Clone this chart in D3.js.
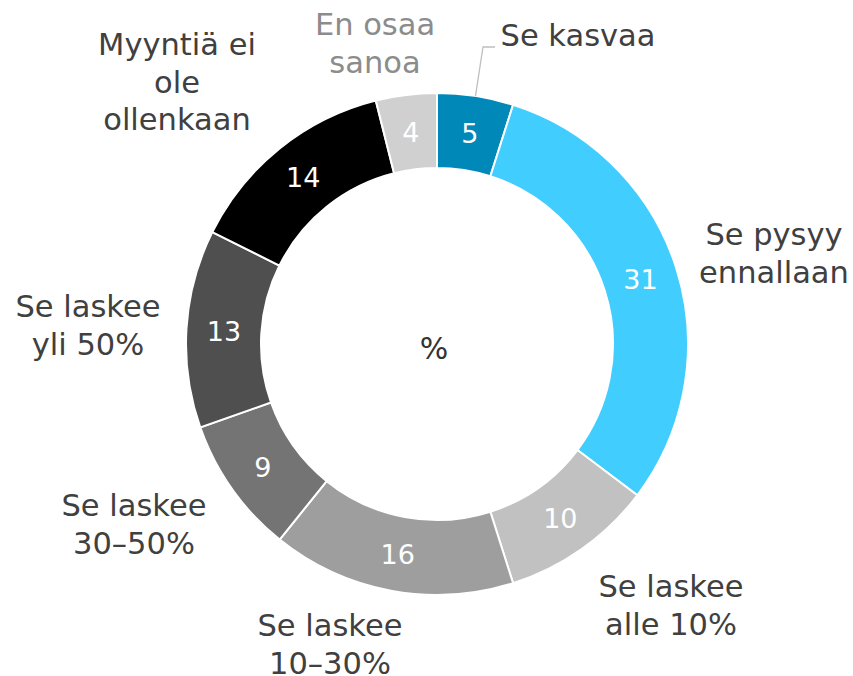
<!DOCTYPE html>
<html>
<head>
<meta charset="utf-8">
<style>
  body { margin: 0; background: #fff; }
  svg text { font-family: "DejaVu Sans", Verdana, sans-serif; }
</style>
</head>
<body>
<svg width="853" height="676"></svg>
<script src="https://cdn.jsdelivr.net/npm/d3@7"></script>
<script>
// data, clockwise from 12 o'clock
var categories = ["Se kasvaa", "Se pysyy ennallaan", "Se laskee alle 10%", "Se laskee 10–30%",
                  "Se laskee 30–50%", "Se laskee yli 50%", "Myyntiä ei ole ollenkaan", "En osaa sanoa"];
var values = [5, 31, 10, 16, 9, 13, 14, 4];
var labelLines = [["Se kasvaa"], ["Se pysyy", "ennallaan"], ["Se laskee", "alle 10%"], ["Se laskee", "10–30%"],
                  ["Se laskee", "30–50%"], ["Se laskee", "yli 50%"], ["Myyntiä ei", "ole", "ollenkaan"], ["En osaa", "sanoa"]];
var colors = ["#0088b8", "#42cdff", "#c1c1c1", "#9e9e9e", "#747474", "#4f4f4f", "#000000", "#d0d0d0"];

// layout of the outside labels (x centre, first baseline)
var labelPos = [[578, 46], [774, 245], [671, 597], [330, 636], [134, 516], [88, 317], [177, 55], [375, 35]];

var svg = d3.select("svg"),
    cx = 437, cy = 344,
    outerR = 251, innerR = 176,
    lineH = 37.5;

var g = svg.append("g").attr("transform", "translate(" + cx + "," + cy + ")");

var data = categories.map(function(c, i) { return {cat: c, value: values[i], i: i}; });

var pie = d3.pie().sort(null).value(function(d) { return d.value; });
var arc = d3.arc().innerRadius(innerR).outerRadius(outerR);
var arcs = pie(data);

g.selectAll("path.slice")
  .data(arcs)
  .enter().append("path")
    .attr("class", "slice")
    .attr("d", arc)
    .attr("fill", function(d) { return colors[d.data.i]; })
    .attr("stroke", "#fff")
    .attr("stroke-width", 2);

// values inside the ring
g.selectAll("text.val")
  .data(arcs)
  .enter().append("text")
    .attr("class", "val")
    .attr("transform", function(d) { return "translate(" + arc.centroid(d) + ")"; })
    .attr("text-anchor", "middle")
    .attr("dy", "0.36em")
    .attr("font-size", 27)
    .attr("fill", "#fff")
    .text(function(d) { return d.value; });

g.append("text")
  .attr("x", -3).attr("y", 4)
  .attr("text-anchor", "middle")
  .attr("dy", "0.36em")
  .attr("font-size", 30)
  .attr("fill", "#333")
  .text("%");

// outside labels
var lab = svg.selectAll("text.lab")
  .data(arcs)
  .enter().append("text")
    .attr("class", "lab")
    .attr("text-anchor", "middle")
    .attr("font-size", 30.5)
    .attr("fill", function(d) { return d.data.i === 7 ? "#8c8c8c" : "#404040"; })
    .attr("x", function(d) { return labelPos[d.data.i][0]; })
    .attr("y", function(d) { return labelPos[d.data.i][1]; });

lab.selectAll("tspan")
  .data(function(d) { return labelLines[d.data.i].map(function(t, k) { return {t: t, k: k, x: labelPos[d.data.i][0]}; }); })
  .enter().append("tspan")
    .attr("x", function(d) { return d.x; })
    .attr("dy", function(d) { return d.k === 0 ? 0 : lineH; })
    .text(function(d) { return d.t; });

// leader line for the small first slice
var a0 = arcs[0], mid = (a0.startAngle + a0.endAngle) / 2;
var p0 = [cx + outerR * Math.sin(mid), cy - outerR * Math.cos(mid)];
svg.append("polyline")
  .attr("points", [p0, [483, 47], [495, 47]].map(function(p) { return p.join(","); }).join(" "))
  .attr("fill", "none")
  .attr("stroke", "#bfbfbf")
  .attr("stroke-width", 1.3);
</script>
</body>
</html>
